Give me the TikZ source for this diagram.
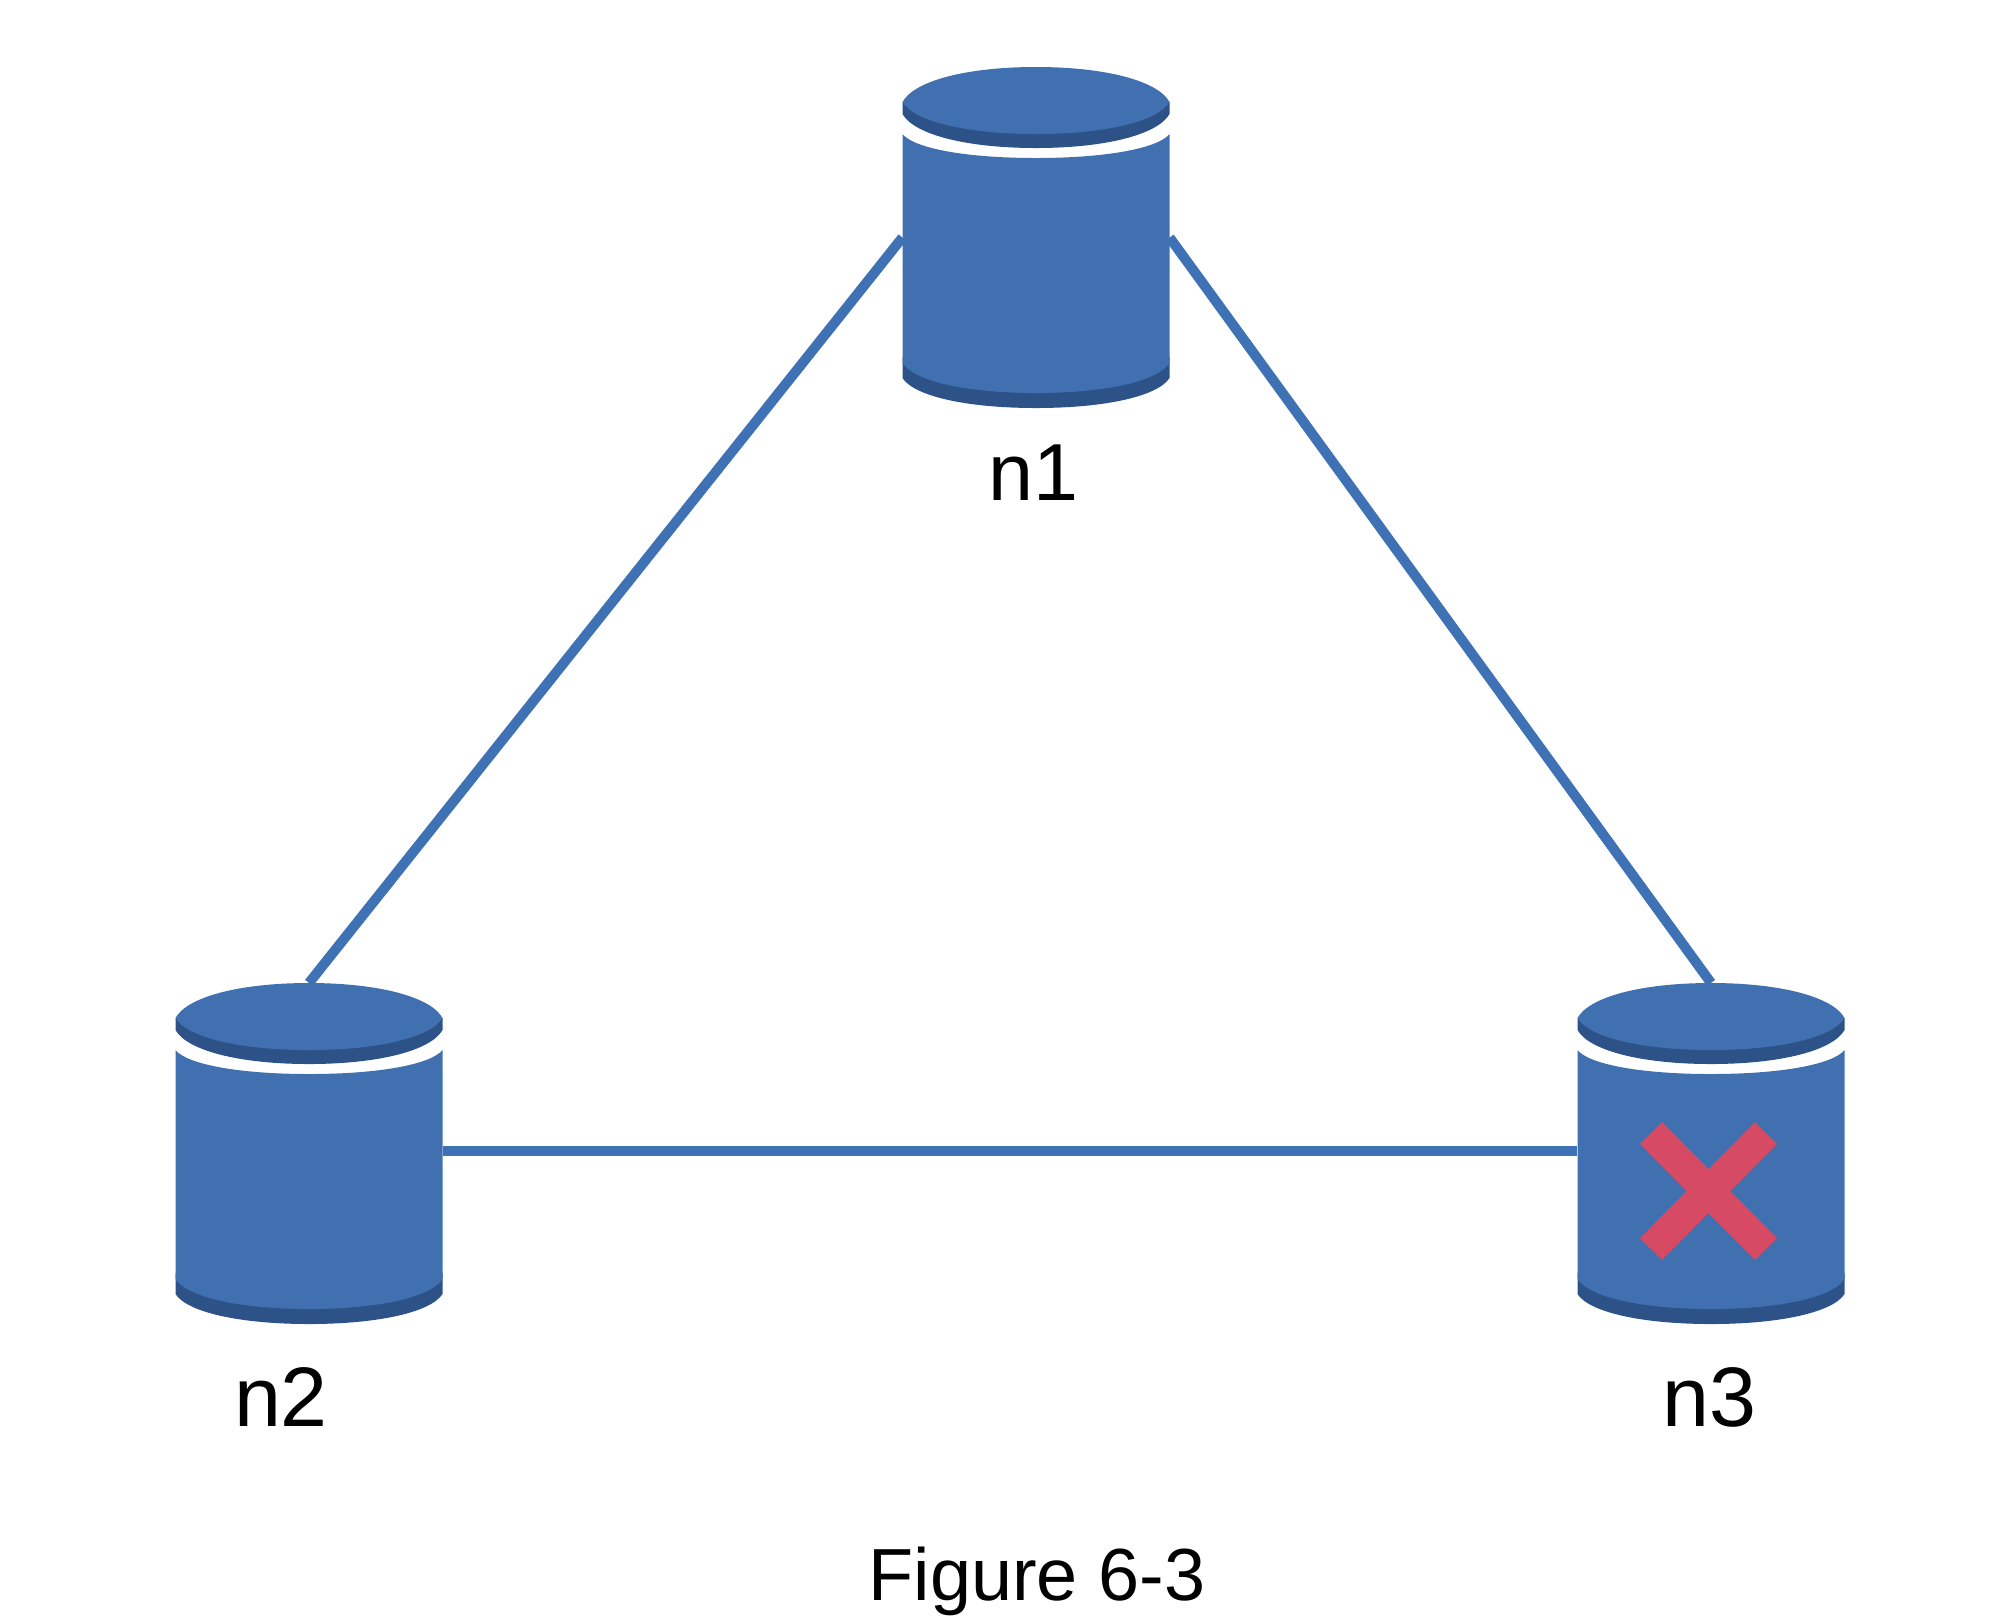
\documentclass[tikz,border=0pt]{standalone}
\usepackage{fontspec}
\setmainfont{Liberation Sans}
\definecolor{dbblue}{HTML}{4070B0}
\definecolor{dbdark}{HTML}{2C5287}
\definecolor{linkblue}{HTML}{3F72B4}
\definecolor{crossred}{HTML}{D64A63}
\tikzset{
    dbbox/.style = {minimum width = 2.67cm, minimum height = 3.41cm, inner sep = 0pt, outer sep = 0pt},
    link/.style = {draw = linkblue, line width = 0.1cm},
    crossline/.style = {draw = crossred, line width = 0.31cm},
    label/.style = {anchor = base, font = \fontsize{24}{29}\selectfont, text = black, inner sep = 0pt}
}
\newcommand{\sagcurve}[3]{
    .. controls ({-122*#3},{#1+0.6*#2}) and ({-70*#3},{#1+#2}) .. (0,{#1+#2})
    .. controls ({70*#3},{#1+#2}) and ({122*#3},{#1+0.6*#2}) .. ({133.5*#3},#1)
}
\begin{document}
\begin{tikzpicture}[x = 0.01cm, y = -0.01cm]
        \useasboundingbox (0,0) rectangle (2000,1623);

        \foreach \dbname/\dbx/\dby in {n1_diag/1036/67, n2_diag/309/983, n3_diag/1711/983} {
            \begin{scope}[shift = {(\dbx,\dby)}]
                \node (\dbname) [dbbox] at (0,170.5) {};
                \fill[dbdark] (-133.5,35) -- (-133.5,47) \sagcurve{47}{34}{1} -- (133.5,35) -- cycle;
                \fill[dbblue] (-133.5,35) \sagcurve{35}{32}{1} \sagcurve{35}{-35}{-1} -- cycle;
                \fill[dbdark] (-133.5,290) -- (-133.5,311) \sagcurve{311}{30}{1} -- (133.5,290) -- cycle;
                \fill[dbblue] (-133.5,67) \sagcurve{67}{24}{1} -- (133.5,296) \sagcurve{296}{30}{-1} -- cycle;
            \end{scope}
        }

        \node (n1_label) [label, font = \fontsize{23}{28}\selectfont] at (1033,500) {n1};
        \node (n2_label) [label] at (281,1426) {n2};
        \node (n3_label) [label] at (1709,1426) {n3};
        \node (fig_label) [label, font = \fontsize{21}{26}\selectfont] at (1037,1600) {Figure 6-3};

        \path (n1_diag.west) edge[link] (n2_diag.north);
        \path (n1_diag.east) edge[link] (n3_diag.north);
        \path ([yshift = 0.025cm]n2_diag.east) edge[link] ([yshift = 0.025cm]n3_diag.west);

        \draw[crossline] (1651,1133) -- (1766,1249);
        \draw[crossline] (1766,1133) -- (1651,1249);
    \end{tikzpicture}
\end{document}
